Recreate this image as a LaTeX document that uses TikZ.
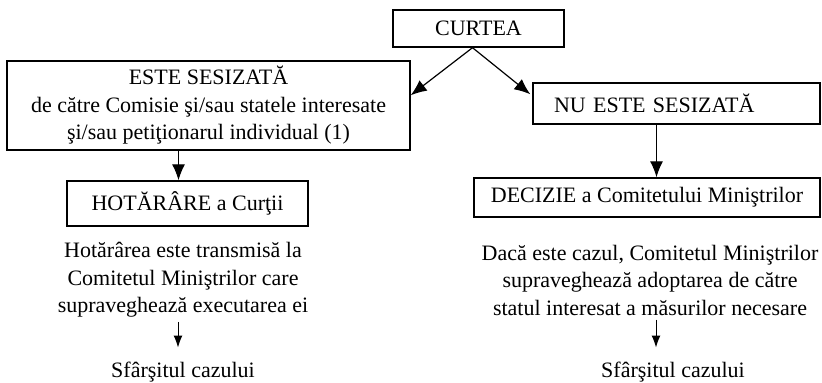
\documentclass[tikz,border=0pt]{standalone}
\usepackage{fontspec}
\setmainfont{Liberation Serif}
\usetikzlibrary{calc}
\usetikzlibrary{arrows.meta}

\begin{document}
\begin{tikzpicture}[
        x=0.5pt,y=-0.5pt,
        every node/.style={font=\fontsize{11}{13.75}\selectfont,inner sep=0pt},
        box/.style={draw,line width=0.7pt},
        >={Latex[length=8pt,width=6.5pt]},
        small/.style={->,line width=0.5pt,>={Latex[length=6pt,width=4.5pt]},shorten <=2pt,shorten >=7pt}
    ]
        \useasboundingbox (0,0) rectangle (822,383);
        \node[box,minimum width=85.5pt,minimum height=18.5pt] (curtea) at (478.5,28.5) {CURTEA};
        \node[box,minimum width=201.5pt,minimum height=44.5pt,align=center] (este) at (208.5,105.5)
            {ESTE SESIZATĂ\\de către Comisie şi/sau statele interesate\\şi/sau petiţionarul individual (1)};
        \node[box,text width=122.5pt,inner xsep=10.5pt,minimum height=20.5pt,align=left] (nu) at (676.5,103.5) {NU ESTE SESIZATĂ};
        \node[box,minimum width=120.5pt,minimum height=22.5pt] (hot) at (187.5,203.5) {HOTĂRÂRE a Curţii};
        \node[box,minimum width=173pt,minimum height=19.5pt] (dec) at (647,197.5) {DECIZIE a Comitetului Miniştrilor};
        \node[align=center] (t1) at (183,280)
            {Hotărârea este transmisă la\\Comitetul Miniştrilor care\\supraveghează executarea ei};
        \node[align=center] (t2) at (650,280)
            {Dacă este cazul, Comitetul Miniştrilor\\supraveghează adoptarea de către\\statul interesat a măsurilor necesare};
        \node (sf1) at (183,372) {Sfârşitul cazului};
        \node (sf2) at (673,372) {Sfârşitul cazului};
        % legaturi
        \coordinate (top) at ($(curtea.south)+(-6,0)$);
        \coordinate (nuout) at ($(nu.south)+(-20,0)$);
        \coordinate (esteout) at ($(este.south)+(-30,0)$);
        \coordinate (t1out) at ($(t1.south)+(-5,0)$);
        \coordinate (t2out) at ($(t2.south)+(6,0)$);
        \draw[->,line width=0.6pt] (top) -- ($(este.north east)+(0,35)$);
        \draw[->,line width=0.6pt] (top) -- ($(nu.north west)+(-2,12)$);
        \draw[->,line width=0.6pt] (esteout) -- (esteout |- hot.north);
        \draw[->,line width=0.6pt] (nuout) -- (nuout |- dec.north);
        \draw[small] (t1out) -- (t1out |- sf1.north);
        \draw[small] (t2out) -- (t2out |- sf2.north);
    \end{tikzpicture}
\end{document}
